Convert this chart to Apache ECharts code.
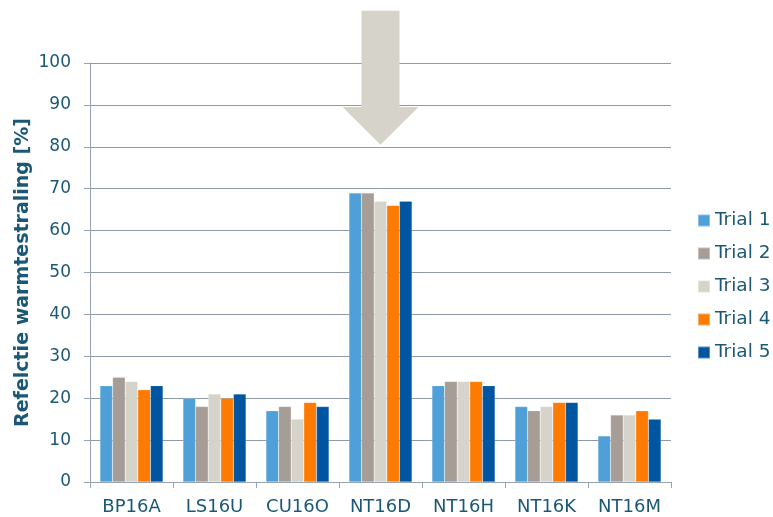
<!DOCTYPE html>
<html>
<head>
<meta charset="utf-8">
<script src="https://cdn.jsdelivr.net/npm/echarts@6/dist/echarts.min.js"></script>
<style>
  html, body { margin: 0; padding: 0; background: #fff; }
  #chart { width: 773px; height: 517px; }
</style>
</head>
<body>
<div id="chart"></div>
<script>
// Samples measured
const categories = ['BP16A', 'LS16U', 'CU16O', 'NT16D', 'NT16H', 'NT16K', 'NT16M'];

// Reflection per trial [%]
const trial1 = [23, 20, 17, 69, 23, 18, 11];
const trial2 = [25, 18, 18, 69, 24, 17, 16];
const trial3 = [24, 21, 15, 67, 24, 18, 16];
const trial4 = [22, 20, 19, 66, 24, 19, 17];
const trial5 = [23, 21, 18, 67, 23, 19, 15];

const seriesNames = ['Trial 1', 'Trial 2', 'Trial 3', 'Trial 4', 'Trial 5'];
const seriesData = [trial1, trial2, trial3, trial4, trial5];
const colors = ['#4F9FD8', '#A59D96', '#D6D3CB', '#FF7A00', '#0055A0'];

const textColor = '#1B5876';
const lineColor = '#97A3B1';
const font = 'DejaVu Sans, Verdana, sans-serif';

const chart = echarts.init(document.getElementById('chart'), null, { renderer: 'canvas' });

chart.setOption({
  animation: false,
  color: colors,
  grid: { left: 90, right: 102, top: 63, bottom: 35, containLabel: false },
  legend: {
    orient: 'vertical',
    left: 692,
    top: 206,
    itemWidth: 12,
    itemHeight: 12,
    itemGap: 14,
    icon: 'rect',
    textStyle: { color: textColor, fontSize: 18.5, fontFamily: font },
    data: seriesNames
  },
  xAxis: {
    type: 'category',
    data: categories,
    axisLine: { lineStyle: { color: lineColor, width: 1 } },
    axisTick: { show: true, length: 6, lineStyle: { color: lineColor } },
    axisLabel: { color: textColor, fontSize: 18, fontFamily: font, margin: 16 }
  },
  yAxis: {
    type: 'value',
    min: 0,
    max: 100,
    interval: 10,
    name: 'Refelctie warmtestraling [%]',
    nameLocation: 'middle',
    nameGap: 57,
    nameMoveOverlap: false,
    nameTextStyle: { color: textColor, fontSize: 19, fontWeight: 'bold', fontFamily: font },
    axisLine: { show: true, lineStyle: { color: lineColor } },
    axisTick: { show: true, length: 6, lineStyle: { color: lineColor } },
    axisLabel: { color: textColor, fontSize: 17, fontFamily: font, margin: 19 },
    splitLine: { lineStyle: { color: '#8E9AA8', width: 1 } }
  },
  series: seriesData.map((d, i) => ({
    name: seriesNames[i],
    type: 'bar',
    data: d,
    barGap: '0%',
    barCategoryGap: '24%',
    itemStyle: { color: colors[i], borderColor: 'rgba(255,255,255,0.35)', borderWidth: 0.5 }
  }))
});

// Highlight arrow pointing down onto the NT16D group
function drawArrow() {
  const cat = 'NT16D';
  const c = chart.convertToPixel({ xAxisIndex: 0, yAxisIndex: 0 }, [cat, 0])[0];
  const yTop = chart.convertToPixel({ yAxisIndex: 0 }, 112.5);
  const yNeck = chart.convertToPixel({ yAxisIndex: 0 }, 89.5);
  const yTip = chart.convertToPixel({ yAxisIndex: 0 }, 80.5);
  const shaftHalf = 19;
  const headHalf = 38;
  chart.setOption({
    graphic: [{
      type: 'polygon',
      z: 100,
      shape: {
        points: [
          [c - shaftHalf, yTop], [c + shaftHalf, yTop], [c + shaftHalf, yNeck],
          [c + headHalf, yNeck], [c, yTip], [c - headHalf, yNeck], [c - shaftHalf, yNeck]
        ]
      },
      style: { fill: '#D6D3CB' }
    }]
  });
}
drawArrow();
</script>
</body>
</html>
